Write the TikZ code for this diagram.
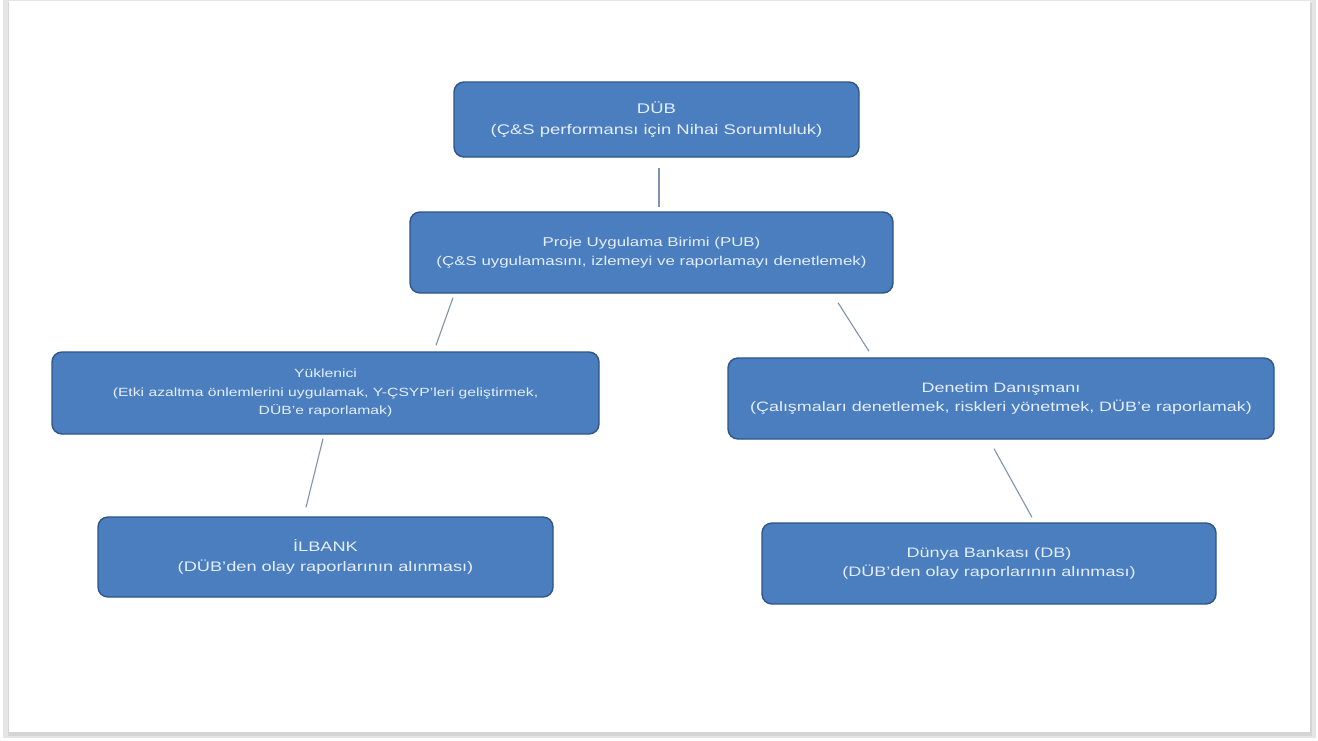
\documentclass[tikz,border=0pt]{standalone}
\usepackage{fontspec}
\setmainfont[FakeStretch=1.32]{Liberation Sans}
\usetikzlibrary{calc}
\definecolor{boxfill}{HTML}{4A7EBF}
\definecolor{boxedge}{HTML}{2F5687}
\definecolor{linkcol}{HTML}{7F93AA}
\definecolor{txtcol}{HTML}{E4EEFF}
\definecolor{pageedge}{HTML}{D4D4D4}
\begin{document}
\begin{tikzpicture}[x=1pt,y=-1pt,
  orgbox/.style={draw=boxedge,line width=1.4pt,fill=boxfill,rounded corners=10pt,
    text=txtcol,align=center,font=\fontsize{14}{19.5}\selectfont,inner sep=0pt},
  link/.style={draw=linkcol,line width=1.1pt}]
\useasboundingbox (0,0) rectangle (1318,740);
% page with shadow
\fill[pageedge!60] (3,0) rectangle (1316,738);
\fill[pageedge] (8,3) rectangle (1312,736);
\fill[white] (9,1) rectangle (1310,732);
% boxes
\node[orgbox,minimum width=405pt,minimum height=75pt,font=\fontsize{14}{20.5}\selectfont] (dub) at (656.5,119.5)
  {DÜB\\(Ç\&S performansı için Nihai Sorumluluk)};
\node[orgbox,minimum width=483pt,minimum height=81pt,font=\fontsize{12.8}{19}\selectfont] (pub) at (651.5,252.5)
  {Proje Uygulama Birimi (PUB)\\(Ç\&S uygulamasını, izlemeyi ve raporlamayı denetlemek)};
\node[orgbox,minimum width=547pt,minimum height=82pt,font=\fontsize{11.9}{18.8}\selectfont] (ykl) at (325.5,393)
  {Yüklenici\\(Etki azaltma önlemlerini uygulamak, Y-ÇSYP'leri geliştirmek,\\DÜB'e raporlamak)};
\node[orgbox,minimum width=546pt,minimum height=81pt,font=\fontsize{13.6}{19.5}\selectfont] (den) at (1001,398.5)
  {Denetim Danışmanı\\(Çalışmaları denetlemek, riskleri yönetmek, DÜB'e raporlamak)};
\node[orgbox,minimum width=455pt,minimum height=80pt,font=\fontsize{13.8}{19.5}\selectfont] (ilb) at (325.5,557)
  {İLBANK\\(DÜB'den olay raporlarının alınması)};
\node[orgbox,minimum width=454pt,minimum height=81pt,font=\fontsize{13.7}{19.5}\selectfont] (db) at (989,563.5)
  {Dünya Bankası (DB)\\(DÜB'den olay raporlarının alınması)};
% connector end points
\coordinate (c1a) at ($(dub.south)+(2.5,10)$);
\coordinate (c1b) at ($(pub.north)+(7.5,-4)$);
\coordinate (c2a) at ($(pub.south)+(-198.5,4)$);
\coordinate (c2b) at ($(ykl.north)+(110.5,-6)$);
\coordinate (c3a) at ($(pub.south)+(186.5,9)$);
\coordinate (c3b) at ($(den.north)+(-132,-6)$);
\coordinate (c4a) at ($(ykl.south)+(-2.5,4)$);
\coordinate (c4b) at ($(ilb.north)+(-19.5,-9)$);
\coordinate (c5a) at ($(den.south)+(-7,9)$);
\coordinate (c5b) at ($(db.north)+(43,-5)$);
\draw[link] (c1a) -- (c1b);
\draw[link] (c2a) -- (c2b);
\draw[link] (c3a) -- (c3b);
\draw[link] (c4a) -- (c4b);
\draw[link] (c5a) -- (c5b);
\end{tikzpicture}
\end{document}
